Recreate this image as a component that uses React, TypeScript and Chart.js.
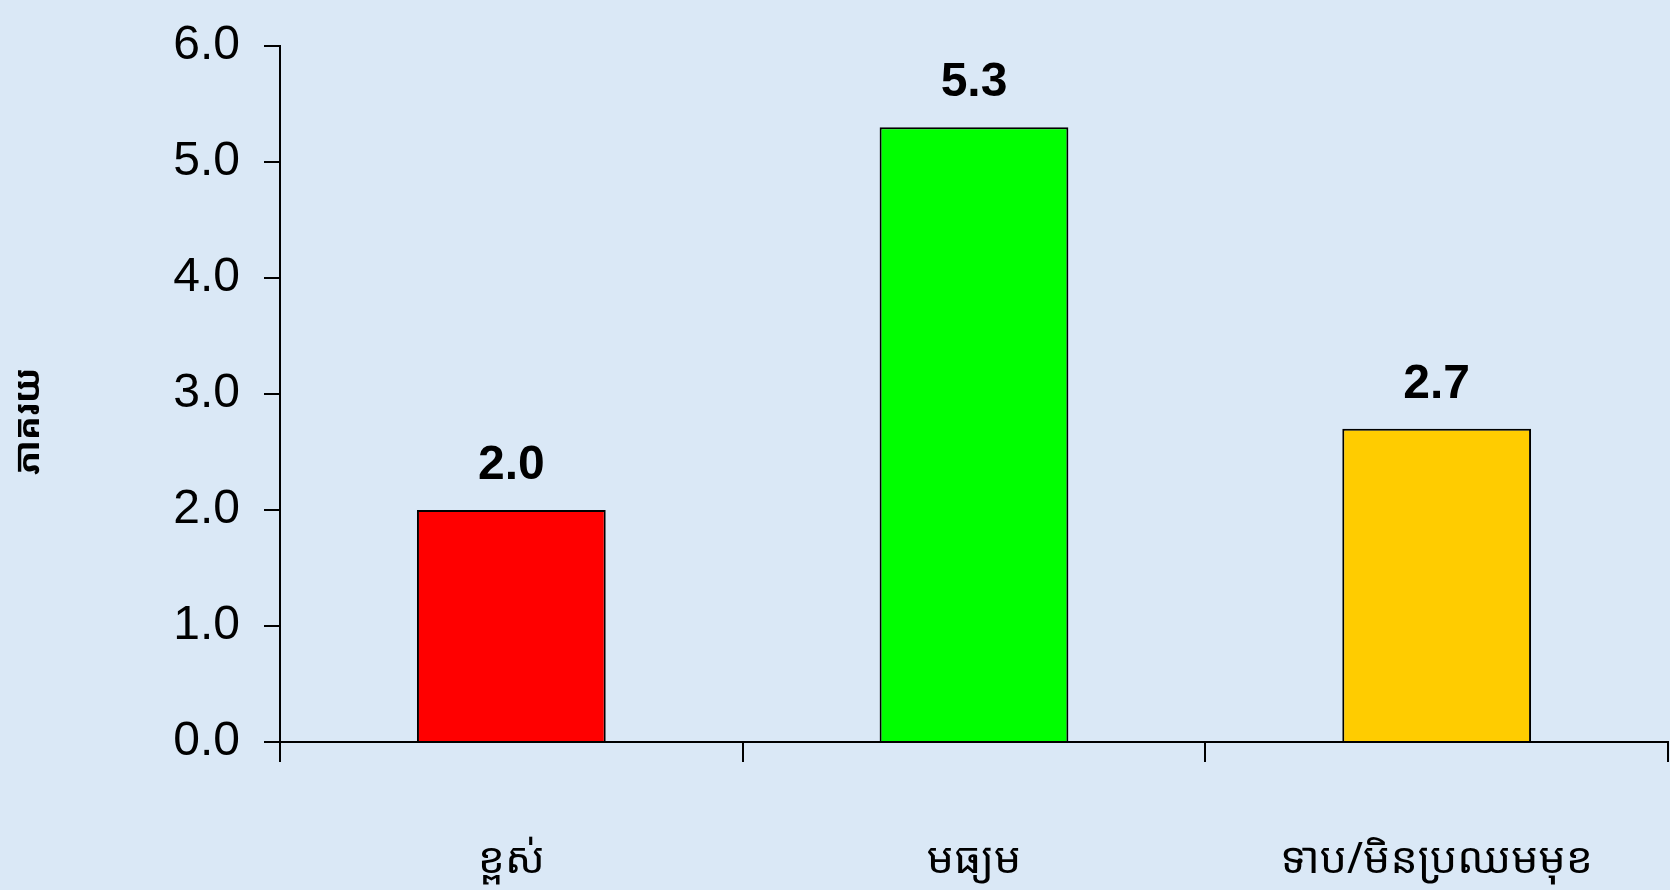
import React, { useEffect, useRef } from "react";
import { Chart, registerables } from "chart.js";

Chart.register(...registerables);

const categories = ["ខ្ពស់", "មធ្យម", "ទាប/មិនប្រឈមមុខ"];
const values = [2.0, 5.3, 2.7];
const barColors = ["#FF0000", "#00FF00", "#FFCC00"];
const yTitle = "ភាគរយ";
const yMin = 0;
const yMax = 6;
const yStep = 1;

const KHMER = "'Khmer OS', 'Noto Sans Khmer', 'Khmer OS System', 'DejaVu Sans', sans-serif";
const ARIAL = "'Liberation Sans', Arial, sans-serif";

const bgPlugin = {
  id: "bgFill",
  beforeDraw(chart: any) {
    const { ctx, width, height } = chart;
    ctx.save();
    ctx.fillStyle = "#dae8f6";
    ctx.fillRect(0, 0, width, height);
    ctx.restore();
  },
};

const labelPlugin = {
  id: "valueLabels",
  afterDatasetsDraw(chart: any) {
    const { ctx } = chart;
    const meta = chart.getDatasetMeta(0);
    ctx.save();
    ctx.font = `bold 48px ${ARIAL}`;
    ctx.fillStyle = "#000";
    ctx.textAlign = "center";
    ctx.textBaseline = "alphabetic";
    meta.data.forEach((bar: any, i: number) => {
      ctx.fillText(values[i].toFixed(1), bar.x, bar.y - 31);
    });
    ctx.restore();
  },
};

const yTitlePlugin = {
  id: "yTitle",
  afterDraw(chart: any) {
    const { ctx } = chart;
    ctx.save();
    ctx.translate(29, 421);
    ctx.rotate(-Math.PI / 2);
    ctx.font = `bold 36px ${KHMER}`;
    ctx.fillStyle = "#000";
    ctx.textAlign = "center";
    ctx.textBaseline = "middle";
    ctx.fillText(yTitle, 0, 0);
    ctx.restore();
  },
};

export default function App() {
  const ref = useRef<HTMLCanvasElement>(null);
  useEffect(() => {
    document.body.style.margin = "0";
    const chart = new Chart(ref.current!, {
      type: "bar",
      data: {
        labels: categories,
        datasets: [
          {
            data: values,
            backgroundColor: barColors,
            borderColor: "#000",
            borderWidth: 2,
            categoryPercentage: 0.8,
            barPercentage: 0.51,
          },
        ],
      },
      options: {
        animation: false,
        responsive: false,
        maintainAspectRatio: false,
        layout: { padding: { top: 46, right: 2, left: 0, bottom: 0 } },
        plugins: { legend: { display: false }, tooltip: { enabled: false } },
        scales: {
          x: {
            grid: {
              offset: true,
              drawOnChartArea: false,
              drawTicks: true,
              tickLength: 20,
              color: "#000",
              lineWidth: 2,
            },
            border: { display: true, color: "#000", width: 2 },
            ticks: {
              color: "#000",
              font: { family: KHMER, size: 43 },
              padding: 73,
              maxRotation: 0,
              autoSkip: false,
            },
            afterFit(scale: any) {
              scale.height = 148;
              scale.paddingLeft = 0;
              scale.paddingRight = 0;
            },
          },
          y: {
            min: yMin,
            max: yMax,
            grid: {
              drawOnChartArea: false,
              drawTicks: true,
              tickLength: 16,
              color: "#000",
              lineWidth: 2,
            },
            border: { display: true, color: "#000", width: 2 },
            ticks: {
              stepSize: yStep,
              color: "#000",
              font: { family: ARIAL, size: 48 },
              padding: 24,
              callback: (v: any) => Number(v).toFixed(1),
            },
            afterFit(scale: any) {
              scale.width = 280;
              scale.paddingTop = 0;
              scale.paddingBottom = 0;
            },
          },
        },
      },
      plugins: [bgPlugin, labelPlugin, yTitlePlugin],
    });
    return () => chart.destroy();
  }, []);
  return (
    <div style={{ width: 1670, height: 890 }}>
      <canvas ref={ref} width={1670} height={890} style={{ display: "block" }} />
    </div>
  );
}
